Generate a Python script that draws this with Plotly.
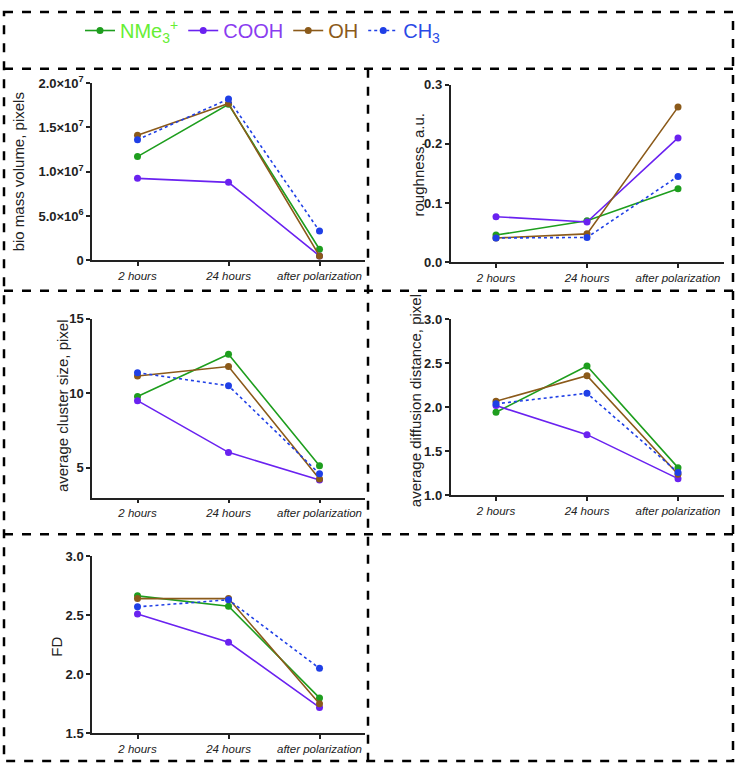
import plotly.graph_objects as go

W, H = 737, 773

categories = ["2 hours", "24 hours", "after polarization"]
series_names = ["NMe3+", "COOH", "OH", "CH3"]

# Panel values (per series: 2 hours, 24 hours, after polarization)
biomass_NMe3 = [11.7e6, 17.6e6, 1.25e6]
biomass_COOH = [9.25e6, 8.8e6, 0.5e6]
biomass_OH = [14.1e6, 17.7e6, 0.5e6]
biomass_CH3 = [13.6e6, 18.2e6, 3.3e6]

rough_NMe3 = [0.046, 0.070, 0.124]
rough_COOH = [0.077, 0.068, 0.210]
rough_OH = [0.041, 0.048, 0.262]
rough_CH3 = [0.041, 0.042, 0.145]

cluster_NMe3 = [9.78, 12.62, 5.13]
cluster_COOH = [9.50, 6.03, 4.17]
cluster_OH = [11.16, 11.79, 4.24]
cluster_CH3 = [11.38, 10.50, 4.59]

diff_NMe3 = [1.944, 2.47, 1.315]
diff_COOH = [2.02, 1.69, 1.19]
diff_OH = [2.07, 2.36, 1.24]
diff_CH3 = [2.04, 2.16, 1.26]

fd_NMe3 = [2.663, 2.575, 1.80]
fd_COOH = [2.51, 2.27, 1.72]
fd_OH = [2.64, 2.64, 1.75]
fd_CH3 = [2.57, 2.63, 2.05]

biomass_ticks = [0, 5e6, 1e7, 1.5e7, 2e7]
biomass_ticktext = ["0", "5.0×10<sup>6</sup>", "1.0×10<sup>7</sup>", "1.5×10<sup>7</sup>", "2.0×10<sup>7</sup>"]
rough_ticks = [0.0, 0.1, 0.2, 0.3]
rough_ticktext = ["0.0", "0.1", "0.2", "0.3"]
cluster_ticks = [5, 10, 15]
diff_ticks = [1.0, 1.5, 2.0, 2.5, 3.0]
diff_ticktext = ["1.0", "1.5", "2.0", "2.5", "3.0"]
fd_ticks = [1.5, 2.0, 2.5, 3.0]
fd_ticktext = ["1.5", "2.0", "2.5", "3.0"]

line_colors = ["#1e9e1e", "#6a22f0", "#8b5a1a", "#1f3fe6"]
text_colors = ["#66ee33", "#8a3cf0", "#8b5a1a", "#2a4ae6"]
dashes = ["solid", "solid", "solid", "dot"]
legend_labels = ["NMe<sub>3</sub><sup>+</sup>", "COOH", "OH", "CH<sub>3</sub>"]

panels = [
    (biomass_NMe3, biomass_COOH, biomass_OH, biomass_CH3),
    (rough_NMe3, rough_COOH, rough_OH, rough_CH3),
    (cluster_NMe3, cluster_COOH, cluster_OH, cluster_CH3),
    (diff_NMe3, diff_COOH, diff_OH, diff_CH3),
    (fd_NMe3, fd_COOH, fd_OH, fd_CH3),
]


def px(x):
    return x / W


def py(y):
    return 1 - y / H


fig = go.Figure()
for pi, data in enumerate(panels):
    ax = "" if pi == 0 else str(pi + 1)
    for si, vals in enumerate(data):
        fig.add_trace(go.Scatter(
            x=categories, y=vals, mode="lines+markers",
            name="<span style='color:%s'>%s</span>" % (text_colors[si], legend_labels[si]),
            legendgroup=series_names[si], showlegend=(pi == 0),
            line=dict(color=line_colors[si], width=1.6, dash=dashes[si]),
            marker=dict(color=line_colors[si], size=7, symbol="circle"),
            xaxis="x" + ax, yaxis="y" + ax,
        ))

# domains (pixel -> paper)
xL = [px(92), px(365)]
xR = [px(450.5), px(723.5)]
doms = [
    (xL, [py(257), py(75.7)], [0, 2e7], biomass_ticks, biomass_ticktext),
    (xR, [py(259), py(77.3)], [0, 0.3], rough_ticks, rough_ticktext),
    (xL, [py(499.5), py(316.7)], [3, 15], cluster_ticks, [str(v) for v in cluster_ticks]),
    (xR, [py(497.3), py(317.3)], [1.0, 3.0], diff_ticks, diff_ticktext),
    (xL, [py(740.7), py(559.3)], [1.5, 3.0], fd_ticks, fd_ticktext),
]

axis_color = "#222222"
layout = dict(
    width=W, height=H, margin=dict(l=0, r=0, t=0, b=0),
    paper_bgcolor="white", plot_bgcolor="white",
    font=dict(family="Liberation Sans, Arial, sans-serif", color="#222222"),
    showlegend=True,
    legend=dict(orientation="h", x=px(80), xanchor="left", y=py(22), yanchor="middle",
                font=dict(size=20), itemwidth=30, bgcolor="rgba(0,0,0,0)",
                tracegroupgap=0),
)
for i, (xd, yd, yr, tv, tt) in enumerate(doms):
    ax = "" if i == 0 else str(i + 1)
    layout["xaxis" + ax] = dict(
        domain=xd, anchor="y" + ax, type="category", range=[-0.5, 2.5],
        showline=True, linecolor=axis_color, linewidth=1.5,
        ticks="outside", ticklen=4, tickcolor=axis_color, tickwidth=1.5,
        showgrid=False, zeroline=False,
        tickfont=dict(size=11.5, style="italic", color="#222222"),
    )
    layout["yaxis" + ax] = dict(
        domain=yd, anchor="x" + ax, range=yr,
        tickvals=tv, ticktext=tt,
        showline=True, linecolor=axis_color, linewidth=1.5,
        ticks="outside", ticklen=4, tickcolor=axis_color, tickwidth=1.5,
        showgrid=False, zeroline=False,
        tickfont=dict(size=13, weight="bold", color="#222222"),
    )
fig.update_layout(**layout)

# y-axis titles
titles = [
    ("bio mass volume, pixels", 18, 167),
    ("roughness, a.u.", 418, 160),
    ("average cluster size, pixel", 62, 406),
    ("average diffusion distance, pixel", 415, 401),
    ("FD", 57, 652),
]
for txt, x, y in titles:
    fig.add_annotation(text=txt, x=px(x), y=py(y), xref="paper", yref="paper",
                       textangle=-90, showarrow=False, xanchor="center", yanchor="middle",
                       font=dict(size=15, color="#222222"))

# dashed panel borders
dash_line = dict(color="black", width=2.5, dash="dash")
shapes = [
    dict(type="rect", x0=px(4), x1=px(733), y0=py(3), y1=py(769)),
    dict(type="line", x0=px(4), x1=px(733), y0=py(61), y1=py(61)),
    dict(type="line", x0=px(4), x1=px(733), y0=py(288), y1=py(288)),
    dict(type="line", x0=px(4), x1=px(733), y0=py(537), y1=py(537)),
    dict(type="line", x0=px(368), x1=px(368), y0=py(61), y1=py(769)),
]
for s in shapes:
    s.update(xref="paper", yref="paper", line=dash_line)
    fig.add_shape(**s)

fig.write_html("out.html", config={"displayModeBar": False},
               post_script="document.body.style.margin='0';document.body.style.overflow='hidden';")
